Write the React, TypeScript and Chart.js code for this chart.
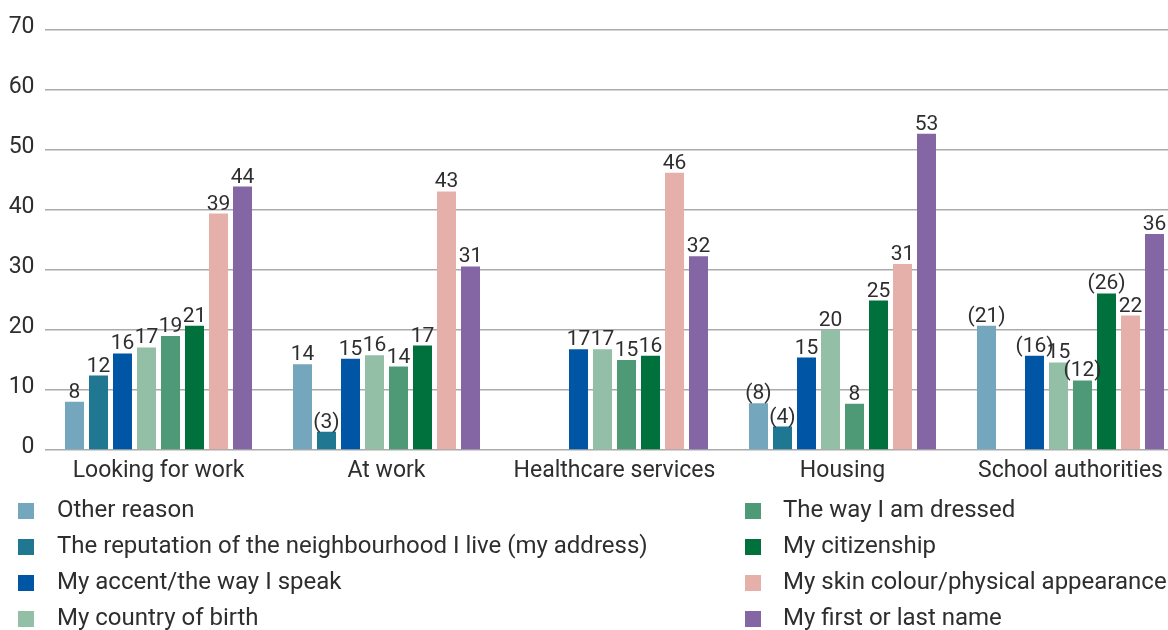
import React, { useEffect, useRef } from "react";
import { Chart, registerables } from "chart.js";

Chart.register(...registerables);

const categories = ["Looking for work", "At work", "Healthcare services", "Housing", "School authorities"];

const seriesNames = [
  "Other reason",
  "The reputation of the neighbourhood I live (my address)",
  "My accent/the way I speak",
  "My country of birth",
  "The way I am dressed",
  "My citizenship",
  "My skin colour/physical appearance",
  "My first or last name",
];

const seriesColors = ["#74a7bd", "#1f7791", "#0055a5", "#92bfa6", "#4e9a76", "#00703c", "#e6b0aa", "#8366a3"];

const otherReason = [8.05, 14.3, null, 7.8, 20.7];
const reputation = [12.4, 3.05, null, 3.9, null];
const accent = [16.1, 15.2, 16.8, 15.4, 15.7];
const countryOfBirth = [17.1, 15.8, 16.8, 20.0, 14.6];
const dressed = [19.0, 13.9, 15.0, 7.7, 11.6];
const citizenship = [20.7, 17.4, 15.7, 24.9, 26.1];
const skinColour = [39.4, 43.1, 46.2, 31.0, 22.4];
const firstLastName = [43.9, 30.6, 32.3, 52.7, 36.0];

const otherReasonLabels = ["8", "14", null, "(8)", "(21)"];
const reputationLabels = ["12", "(3)", null, "(4)", null];
const accentLabels = ["16", "15", "17", "15", "(16)"];
const countryOfBirthLabels = ["17", "16", "17", "20", "15"];
const dressedLabels = ["19", "14", "15", "8", "(12)"];
const citizenshipLabels = ["21", "17", "16", "25", "(26)"];
const skinColourLabels = ["39", "43", "46", "31", "22"];
const firstLastNameLabels = ["44", "31", "32", "53", "36"];

const yTicks = [0, 10, 20, 30, 40, 50, 60, 70];

const seriesValues = [otherReason, reputation, accent, countryOfBirth, dressed, citizenship, skinColour, firstLastName];
const seriesLabels = [
  otherReasonLabels,
  reputationLabels,
  accentLabels,
  countryOfBirthLabels,
  dressedLabels,
  citizenshipLabels,
  skinColourLabels,
  firstLastNameLabels,
];

const FONT = "Roboto, 'Open Sans', sans-serif";
const TEXT = "#2e2e2e";

const overlayPlugin = {
  id: "overlay",
  afterDatasetsDraw(chart: any) {
    const ctx = chart.ctx as CanvasRenderingContext2D;
    ctx.save();
    ctx.font = `21px ${FONT}`;
    ctx.fillStyle = TEXT;
    ctx.textAlign = "center";
    ctx.textBaseline = "alphabetic";
    chart.data.datasets.forEach((ds: any, di: number) => {
      const meta = chart.getDatasetMeta(di);
      meta.data.forEach((bar: any, i: number) => {
        const lab = seriesLabels[di][i];
        if (lab == null || ds.data[i] == null) return;
        ctx.fillText(lab, bar.x, bar.y - 4);
      });
    });

    // legend in two columns
    ctx.font = `24px ${FONT}`;
    ctx.textAlign = "left";
    const cols = [
      { sq: 18, tx: 57 },
      { sq: 745, tx: 783 },
    ];
    seriesNames.forEach((name, i) => {
      const col = cols[Math.floor(i / 4)];
      const row = i % 4;
      const base = 517 + row * 36;
      ctx.fillStyle = seriesColors[i];
      ctx.fillRect(col.sq, base - 14, 16, 16);
      ctx.fillStyle = TEXT;
      ctx.fillText(name, col.tx, base);
    });
    ctx.restore();
  },
};

export default function App() {
  const ref = useRef<HTMLCanvasElement>(null);
  useEffect(() => {
    document.body.style.margin = "0";
    const chart = new Chart(ref.current!, {
      type: "bar",
      data: {
        labels: categories,
        datasets: seriesNames.map((name, i) => ({
          label: name,
          data: seriesValues[i] as any,
          backgroundColor: seriesColors[i],
          borderWidth: 0,
          categoryPercentage: 192 / 228,
          barPercentage: 19 / 24,
        })),
      },
      options: {
        responsive: false,
        animation: false,
        devicePixelRatio: 1,
        layout: { padding: { top: 30, left: 0, right: 5.5, bottom: 140 } },
        plugins: {
          legend: { display: false },
          tooltip: { enabled: false },
        },
        scales: {
          x: {
            grid: { display: false, drawTicks: false },
            border: { display: false },
            ticks: {
              color: TEXT,
              font: { family: FONT, size: 23 },
              padding: 7,
              maxRotation: 0,
              autoSkip: false,
            },
            afterFit: (scale: any) => {
              scale.height = 40;
            },
          },
          y: {
            min: 0,
            max: 70,
            afterBuildTicks: (scale: any) => {
              scale.ticks = yTicks.map((v) => ({ value: v }));
            },
            grid: { color: "#aaaaaa", lineWidth: 1.5, drawTicks: false },
            border: { display: false },
            ticks: {
              color: TEXT,
              font: { family: FONT, size: 23 },
              padding: 10,
              labelOffset: -3,
            },
            afterFit: (scale: any) => {
              scale.width = 44.5;
            },
          },
        },
      },
      plugins: [overlayPlugin],
    });
    return () => chart.destroy();
  }, []);
  return (
    <div style={{ width: 1168, height: 630, overflow: "hidden", position: "relative" }}>
      <canvas ref={ref} width={1190} height={630} style={{ display: "block" }} />
    </div>
  );
}
